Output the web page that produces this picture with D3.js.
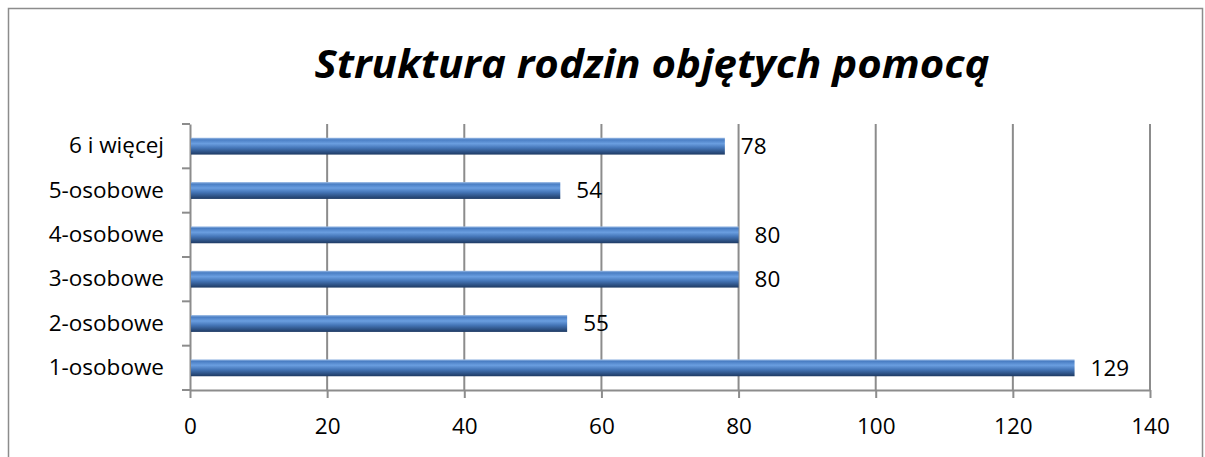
<!DOCTYPE html>
<html><head><meta charset="utf-8">
<script src="https://d3js.org/d3.v7.min.js"></script>
<style>body{margin:0;background:#fff}svg{display:block}</style>
</head><body>
<script>
const categories = ["1-osobowe","2-osobowe","3-osobowe","4-osobowe","5-osobowe","6 i więcej"];
const values = [129,55,80,80,54,78];
const xTicks = [0,20,40,60,80,100,120,140];
const title = "Struktura rodzin objętych pomocą";

const W=1205,H=457;
const svg=d3.select("body").append("svg").attr("width",W).attr("height",H);
const font="Open Sans, Liberation Sans, sans-serif";
const fs=22.5;

svg.append("rect").attr("x",8.5).attr("y",8.5).attr("width",1194).attr("height",460)
  .attr("fill","#fff").attr("stroke","#8c8c8c").attr("stroke-width",1.5);

const defs=svg.append("defs");
const g=defs.append("linearGradient").attr("id","bg").attr("x1",0).attr("x2",0).attr("y1",0).attr("y2",1);
[[0,"#9dbde6"],[0.12,"#4a7ec4"],[0.35,"#6a9ee0"],[0.6,"#4576b8"],[1,"#1e3a63"]].forEach(s=>g.append("stop").attr("offset",s[0]).attr("stop-color",s[1]));

const x=d3.scaleLinear().domain([0,140]).range([190,1150]);
const y=d3.scaleBand().domain(categories.slice().reverse()).range([124,390]).paddingInner(0.62).paddingOuter(0.31);

svg.append("g").selectAll("line").data(xTicks.slice(1)).join("line")
  .attr("x1",d=>x(d)).attr("x2",d=>x(d)).attr("y1",124).attr("y2",390)
  .attr("stroke","#8c8c8c").attr("stroke-width",2);

const xa=svg.append("g").attr("transform","translate(0,390)")
  .call(d3.axisBottom(x).tickValues(xTicks).tickSize(8).tickPadding(20).tickSizeOuter(0));
xa.select(".domain").attr("stroke","#8c8c8c").attr("stroke-width",2);
xa.selectAll(".tick line").attr("stroke","#8c8c8c").attr("stroke-width",2);
xa.selectAll("text").attr("font-family",font).attr("font-size",fs).attr("fill","#000");

const yb=d3.scaleBand().domain(categories.slice().reverse()).range([124,390]);
const ya=svg.append("g").attr("transform","translate(190,0)")
  .call(d3.axisLeft(yb).tickSize(0).tickPadding(26).tickSizeOuter(0));
ya.select(".domain").attr("stroke","#8c8c8c").attr("stroke-width",2);
ya.selectAll("text").attr("font-family",font).attr("font-size",fs).attr("fill","#000");
svg.append("g").selectAll("line").data(d3.range(7)).join("line")
  .attr("x1",182).attr("x2",190)
  .attr("y1",i=>124+i*yb.step()).attr("y2",i=>124+i*yb.step())
  .attr("stroke","#8c8c8c").attr("stroke-width",2);

const data=categories.map((c,i)=>({c,v:values[i]}));
svg.append("g").selectAll("rect").data(data).join("rect")
  .attr("x",x(0)+1).attr("y",d=>y(d.c)).attr("width",d=>x(d.v)-x(0)-1).attr("height",y.bandwidth())
  .attr("fill","url(#bg)");
svg.append("g").selectAll("text").data(data).join("text")
  .attr("x",d=>x(d.v)+16).attr("y",d=>y(d.c)+y.bandwidth()/2).attr("dy","0.35em")
  .attr("font-family",font).attr("font-size",fs).attr("fill","#000").text(d=>d.v);

svg.append("text").attr("x",652).attr("y",78).attr("text-anchor","middle")
  .attr("font-family",font).attr("font-size",40).attr("font-weight","bold").attr("font-style","italic")
  .attr("textLength",675).attr("lengthAdjust","spacingAndGlyphs").text(title);
</script>
</body></html>
